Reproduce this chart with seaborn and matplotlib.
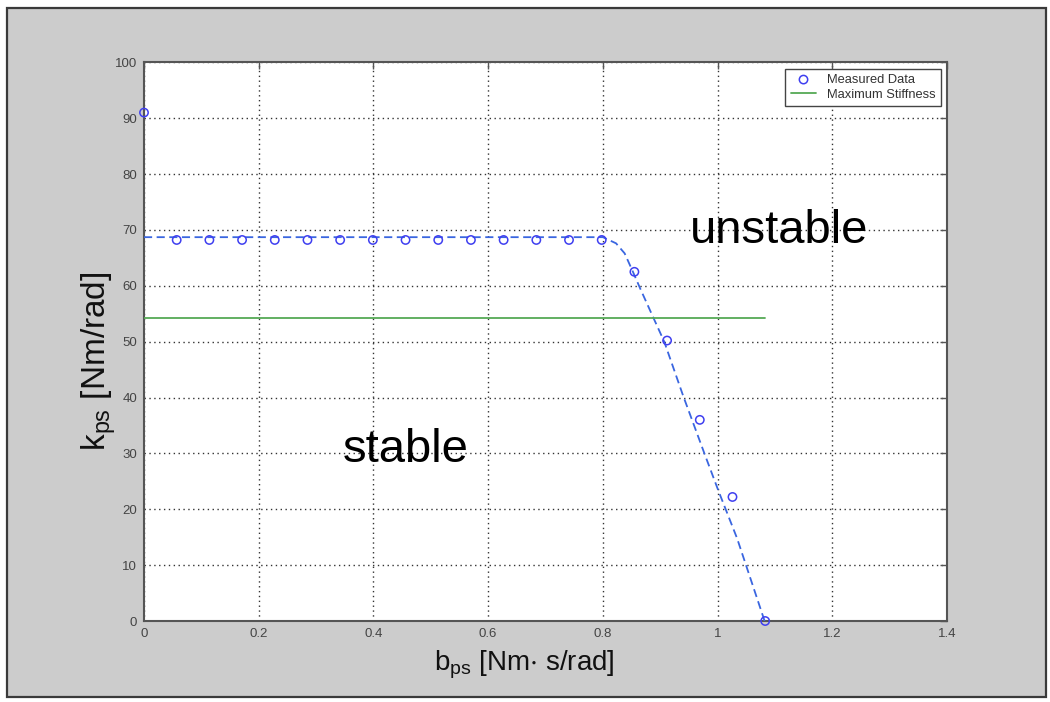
import matplotlib
matplotlib.use("Agg")
import matplotlib.pyplot as plt
import seaborn as sns
import pandas as pd
from matplotlib.patches import Rectangle
from matplotlib import font_manager

# ---- data ----
measured_b = [0.0, 0.057, 0.114, 0.171, 0.228, 0.285, 0.342, 0.399, 0.456, 0.513,
              0.570, 0.627, 0.684, 0.741, 0.798, 0.855, 0.912, 0.969, 1.026, 1.083]
measured_k = [91.0, 68.2, 68.2, 68.2, 68.2, 68.2, 68.2, 68.2, 68.2, 68.2,
              68.2, 68.2, 68.2, 68.2, 68.2, 62.5, 50.2, 36.0, 22.2, 0.0]

fit_b = [0.0, 0.80, 0.823, 0.838, 0.852, 0.866, 0.888, 0.907, 0.94, 0.977, 1.0015, 1.034, 1.082]
fit_k = [68.7, 68.7, 67.6, 65.8, 62.6, 59.3, 54.3, 50.0, 40.3, 30.0, 23.3, 14.8, 0.0]

stiff_b = [0.0, 1.083]
stiff_k = [54.2, 54.2]

x_ticks = [0, 0.2, 0.4, 0.6, 0.8, 1.0, 1.2, 1.4]
x_tick_labels = ["0", "0.2", "0.4", "0.6", "0.8", "1", "1.2", "1.4"]
y_ticks = [0, 10, 20, 30, 40, 50, 60, 70, 80, 90, 100]

legend_labels = ["Measured Data", "Maximum Stiffness"]
region_labels = ["unstable", "stable"]

# ---- styling ----
sns.set_style("white")
plt.rcParams["font.family"] = ["Liberation Sans", "DejaVu Sans"]
plt.rcParams["mathtext.default"] = "regular"

available = {f.name for f in font_manager.fontManager.ttflist}
tick_family = "Liberation Sans Narrow" if "Liberation Sans Narrow" in available else "Liberation Sans"
tick_size = 11 if tick_family == "Liberation Sans Narrow" else 9.5

fig = plt.figure(figsize=(10.5, 7.02), dpi=100, facecolor="white")
# grey figure panel with dark border
panel = Rectangle((7 / 1050, 1 - 697 / 702), (1046 - 7) / 1050, (697 - 8) / 702,
                  transform=fig.transFigure, facecolor="#cccccc",
                  edgecolor="#3a3a3a", linewidth=1.6, zorder=-10)
fig.add_artist(panel)

ax = fig.add_axes([144 / 1050, 1 - 621 / 702, (947 - 144) / 1050, (621 - 62.3) / 702])
ax.set_zorder(5)
ax.set_facecolor("white")

df_meas = pd.DataFrame({"b": measured_b, "k": measured_k})
df_fit = pd.DataFrame({"b": fit_b, "k": fit_k})
df_stiff = pd.DataFrame({"b": stiff_b, "k": stiff_k})

sns.lineplot(data=df_fit, x="b", y="k", ax=ax, color="#3a66e0", linestyle=(0, (4.5, 2.5)),
             linewidth=1.3, sort=False, estimator=None, zorder=3)
sns.lineplot(data=df_stiff, x="b", y="k", ax=ax, color="#55a955", linewidth=1.3,
             sort=False, estimator=None, zorder=3, label=legend_labels[1])
sns.scatterplot(data=df_meas, x="b", y="k", ax=ax, marker="o", s=36,
                facecolor="none", edgecolor="#3f3ff0", linewidth=1.1, zorder=4,
                label=legend_labels[0], clip_on=False)

ax.set_xlim(0, 1.4)
ax.set_ylim(0, 100)
ax.set_xticks(x_ticks)
ax.set_xticklabels(x_tick_labels)
ax.set_yticks(y_ticks)

ax.grid(True, color="#333333", linestyle=(0, (1, 2.5)), linewidth=1.0)
ax.set_axisbelow(True)
for s in ax.spines.values():
    s.set_color("#555555")
    s.set_linewidth(1.5)
    s.set_visible(True)
ax.tick_params(direction="in", length=5, width=1, colors="#555555",
               labelcolor="#444444", labelsize=tick_size, top=True, right=True, pad=5)
for lab in ax.get_xticklabels() + ax.get_yticklabels():
    lab.set_family(tick_family)

ax.set_xlabel(r"b$_{ps}$ [Nm$\cdot$ s/rad]", fontsize=20, color="#111111")
ax.xaxis.set_label_coords(0.474, -0.05)
ax.set_ylabel(r"k$_{ps}$ [Nm/rad]", fontsize=24, color="#111111")
ax.yaxis.set_label_coords(-0.032, 0.465)

ax.text(0.952, 67.7, region_labels[0], fontsize=34, color="black", ha="left", va="baseline")
ax.text(0.346, 28.5, region_labels[1], fontsize=34, color="black", ha="left", va="baseline")

handles, labels = ax.get_legend_handles_labels()
order = [labels.index(legend_labels[0]), labels.index(legend_labels[1])]
leg = ax.legend([handles[i] for i in order], [labels[i] for i in order],
                loc="upper right", fontsize=9.3, frameon=True, fancybox=False,
                edgecolor="#444444", framealpha=1, borderaxespad=0.5,
                handlelength=2.0, handletextpad=0.8, borderpad=0.4, labelspacing=0.2)
for t in leg.get_texts():
    t.set_color("#333333")
leg.get_frame().set_linewidth(1.0)

fig.savefig("out.png", dpi=100, facecolor="white")
